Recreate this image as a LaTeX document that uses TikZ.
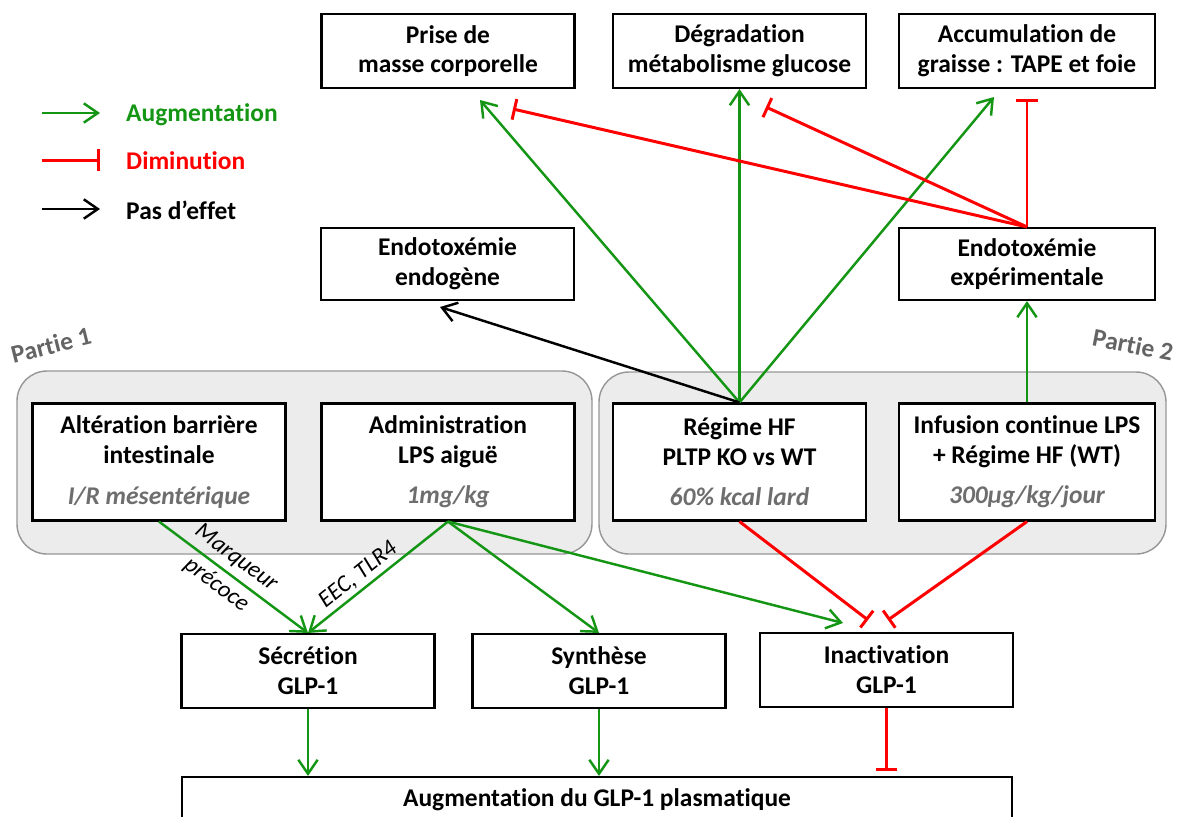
\documentclass[tikz,border=0pt]{standalone}
\usepackage{fontspec}
\setmainfont{Carlito}[Ligatures={NoCommon}]
\usetikzlibrary{arrows.meta}
\definecolor{vert}{RGB}{20,150,20}
\definecolor{rouge}{RGB}{255,0,0}
\definecolor{grisfond}{RGB}{236,236,236}
\definecolor{grisbord}{RGB}{150,150,150}
\definecolor{gristexte}{RGB}{110,110,110}
\definecolor{grispartie}{RGB}{100,100,100}
\begin{document}
\begin{tikzpicture}[x=0.02cm, y=-0.02cm,
  boite/.style={draw, line width=1.2pt, fill=white, align=center, minimum width=5.06cm, minimum height=1.48cm, inner sep=0pt, font=\fontsize{14.5}{17}\selectfont\bfseries},
  large/.style={minimum width=5.12cm},
  haute/.style={minimum height=2.34cm},
  groupe/.style={fill=grisfond, draw=grisbord, line width=0.8pt, rounded corners=0.6cm},
  hausse/.style={draw=vert, line width=1.4pt, -{Straight Barb[length=8pt,width=11pt]}},
  neutre/.style={draw=black, line width=1.4pt, -{Straight Barb[length=8pt,width=11pt]}},
  baisse/.style={draw=rouge, line width=1.7pt, -{Bar[width=12pt]}},
  legende/.style={anchor=west, font=\fontsize{14.5}{17}\selectfont\bfseries},
  partie/.style={text=grispartie, font=\fontsize{14.5}{17}\selectfont\bfseries},
  etiq/.style={align=center, inner sep=2pt, font=\fontsize{13.5}{19}\selectfont\itshape}]
\useasboundingbox (0,0) rectangle (1178,816);
\draw[groupe] (17,371) rectangle (592,554);
\draw[groupe] (599,372) rectangle (1166,554);
\node[partie, rotate=14] (partie1) at (51,345) {Partie 1};
\node[partie, rotate=-11] (partie2) at (1133,345) {Partie 2};
\coordinate (l1a) at (42,113); \coordinate (l1b) at (100,113);
\coordinate (l2a) at (42,160); \coordinate (l2b) at (100,160);
\coordinate (l3a) at (42,209); \coordinate (l3b) at (100,209);
\draw[hausse] (l1a) -- (l1b);
\draw[baisse] (l2a) -- (l2b);
\draw[neutre] (l3a) -- (l3b);
\node[legende, text=vert] (leg1) at (120,115) {Augmentation};
\node[legende, text=rouge] (leg2) at (120,161) {Diminution};
\node[legende] (leg3) at (120,210) {Pas d’effet};
\node[boite] (prise) at (448,51) {Prise de\\masse corporelle};
\node[boite] (degr) at (739.5,51) {Dégradation\\métabolisme glucose};
\node[boite, large] (accu) at (1027,51) {Accumulation de\\graisse : TAPE et foie};
\node[boite, minimum height=1.44cm] (endo) at (447.5,264) {Endotoxémie\\endogène};
\node[boite, large, minimum height=1.44cm] (exper) at (1027,264) {Endotoxémie\\expérimentale};
\node[boite, haute] (alter) at (159,462) {Altération barrière\\intestinale\\[6pt]{\color{gristexte}\itshape I/R mésentérique}};
\node[boite, haute] (admin) at (448,462) {Administration\\LPS aiguë\\[6pt]{\color{gristexte}\itshape 1mg/kg}};
\node[boite, haute] (regime) at (739.5,462) {Régime HF\\PLTP KO vs WT\\[6pt]{\color{gristexte}\itshape 60\% kcal lard}};
\node[boite, large, haute] (infus) at (1027,462) {Infusion continue LPS\\+ Régime HF (WT)\\[6pt]{\color{gristexte}\itshape 300µg/kg/jour}};
\node[boite] (secr) at (308,671) {Sécrétion\\GLP-1};
\node[boite] (synth) at (599,671) {Synthèse\\GLP-1};
\node[boite] (inact) at (886.5,670) {Inactivation\\GLP-1};
\node[boite, minimum width=16.6cm, minimum height=0.92cm] (plasma) at (597,800) {Augmentation du GLP-1 plasmatique};
\coordinate (tPrise) at (480,100);
\coordinate (tAccu) at (994,97);
\coordinate (tEndo) at (440,307);
\coordinate (bPrise) at (513,109);
\coordinate (bDegr) at (766,107);
\coordinate (tInact) at (843,623);
\coordinate (bInactG) at (868,620);
\coordinate (bInactD) at (888,620);
\draw[hausse] (regime.north) -- (tPrise);
\draw[hausse] (regime.north) -- (degr.south);
\draw[hausse] (regime.north) -- (tAccu);
\draw[neutre] (regime.north) -- (tEndo);
\draw[baisse] (exper.north) -- (bPrise);
\draw[baisse] (exper.north) -- (bDegr);
\draw[baisse, shorten >=0.2cm] (exper.north) -- (accu.south);
\draw[hausse] (infus.north) -- (exper.south);
\draw[hausse] (alter.south) -- node[pos=0.45, sloped, etiq] {Marqueur\\précoce} (secr.north);
\draw[hausse] (admin.south) -- node[pos=0.58, sloped, above, etiq] {EEC, TLR4} (secr.north);
\draw[hausse] (admin.south) -- (synth.north);
\draw[hausse] (admin.south) -- (tInact);
\draw[baisse] (regime.south) -- (bInactG);
\draw[baisse] (infus.south) -- (bInactD);
\draw[hausse] (secr.south) -- (secr.south |- plasma.north);
\draw[hausse] (synth.south) -- (synth.south |- plasma.north);
\draw[baisse, shorten >=0.1cm] (inact.south) -- (inact.south |- plasma.north);
\end{tikzpicture}
\end{document}
